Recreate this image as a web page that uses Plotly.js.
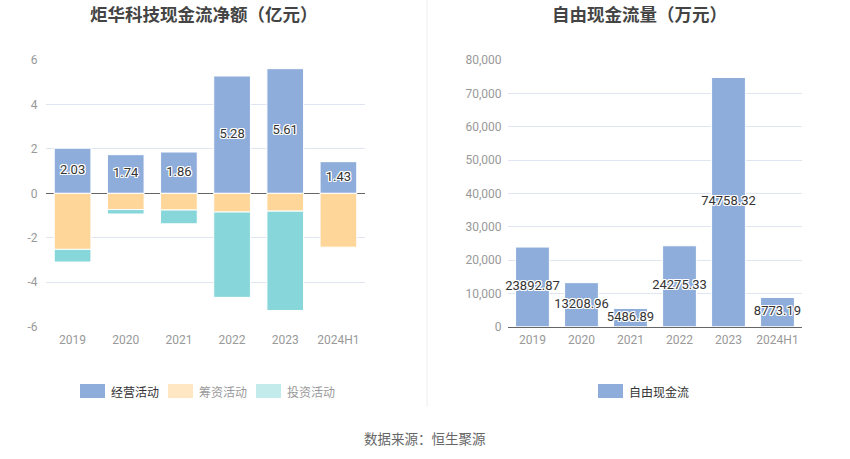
<!DOCTYPE html>
<html><head><meta charset="utf-8">
<script src="https://cdn.plot.ly/plotly-3.0.1.min.js"></script>
<style>html,body{margin:0;padding:0;background:#fff}#c{width:850px;height:459px}</style>
</head><body><div id="c"></div>
<script>
const categories = ['2019','2020','2021','2022','2023','2024H1'];
const operating = [2.03, 1.74, 1.86, 5.28, 5.61, 1.43];
const financing = [-2.52, -0.73, -0.75, -0.84, -0.80, -2.42];
const investing = [-0.57, -0.20, -0.62, -3.84, -4.47, 0];
const seriesNames = ['经营活动','筹资活动','投资活动'];
const fcfCategories = ['2019','2020','2021','2022','2023','2024H1'];
const freeCashFlow = [23892.87, 13208.96, 5486.89, 24275.33, 74758.32, 8773.19];
const fcfName = '自由现金流';
const leftTicks = [-6,-4,-2,0,2,4,6];
const rightTicks = [0,10000,20000,30000,40000,50000,60000,70000,80000];

const W = 850, H = 459;
const px = v => v / W, py = v => 1 - v / H;
const BLUE = '#8eaddb', ORANGE = '#ffd699', TEAL = '#87d6d9';
const FONT = 'Roboto, "Noto Sans CJK SC", sans-serif';
const shadow = '1px 1px 0 #fff, -1px -1px 0 #fff, 1px -1px 0 #fff, -1px 1px 0 #fff, 0 1px 0 #fff, 0 -1px 0 #fff, 1px 0 0 #fff, -1px 0 0 #fff';
const barLine = {color:'#fff', width:1};

const traces = [
  {type:'bar', x:categories, y:operating, name:seriesNames[0], marker:{color:BLUE, line:barLine}, xaxis:'x', yaxis:'y', hoverinfo:'none'},
  {type:'bar', x:categories, y:financing, name:seriesNames[1], marker:{color:ORANGE, line:barLine}, xaxis:'x', yaxis:'y', hoverinfo:'none'},
  {type:'bar', x:categories, y:investing, name:seriesNames[2], marker:{color:TEAL, line:barLine}, xaxis:'x', yaxis:'y', hoverinfo:'none'},
  {type:'scatter', mode:'text', x:categories, y:operating.map(v=>v/2), text:operating.map(v=>v.toFixed(2)),
   textfont:{size:13, color:'#333', family:FONT, shadow:shadow}, xaxis:'x', yaxis:'y', hoverinfo:'none', cliponaxis:false},
  {type:'bar', x:fcfCategories, y:freeCashFlow, name:fcfName, marker:{color:BLUE, line:barLine}, xaxis:'x2', yaxis:'y2', hoverinfo:'none'},
  {type:'scatter', mode:'text', x:fcfCategories, y:freeCashFlow.map(v=>v/2), text:freeCashFlow.map(v=>v.toFixed(2)),
   textfont:{size:13, color:'#333', family:FONT, shadow:shadow}, xaxis:'x2', yaxis:'y2', hoverinfo:'none', cliponaxis:false}
];

const tickFont = {size:12, color:'#999', family:FONT};
const ydom = [py(326.7), py(60)];
const layout = {
  width:W, height:H, margin:{l:0,r:0,t:0,b:0}, paper_bgcolor:'#fff', plot_bgcolor:'#fff',
  showlegend:false, barmode:'relative', bargap:0.31,
  font:{family:FONT},
  xaxis:{domain:[px(46), px(365)], type:'category', showgrid:false, showline:false, zeroline:false,
         ticks:'outside', ticklen:2, tickcolor:'rgba(0,0,0,0)', tickfont:tickFont, fixedrange:true},
  yaxis:{domain:ydom, range:[-6,6], tickvals:leftTicks, ticktext:leftTicks.map(String), showgrid:true, gridcolor:'#e0e6f1',
         zeroline:true, zerolinecolor:'#666', zerolinewidth:1, showline:false, ticks:'outside', ticklen:5, tickcolor:'rgba(0,0,0,0)',
         tickfont:tickFont, fixedrange:true},
  xaxis2:{domain:[px(508), px(802)], type:'category', showgrid:false, showline:true, linecolor:'#666', linewidth:1, zeroline:false,
         ticks:'outside', ticklen:2, tickcolor:'rgba(0,0,0,0)', tickfont:tickFont, anchor:'y2', fixedrange:true},
  yaxis2:{domain:ydom, range:[0,80000], tickvals:rightTicks, ticktext:rightTicks.map(v=>v.toLocaleString('en-US')), showgrid:true,
         gridcolor:'#e0e6f1', zeroline:false, showline:false, ticks:'outside', ticklen:3, tickcolor:'rgba(0,0,0,0)',
         tickfont:tickFont, anchor:'x2', fixedrange:true},
  shapes:[
    {type:'line', xref:'paper', yref:'paper', x0:px(427), x1:px(427), y0:py(0), y1:py(407), line:{color:'#eeeeee', width:1}}
  ],
  annotations:[
    {xref:'paper', yref:'paper', x:px(204), y:py(14), text:'<b>炬华科技现金流净额（亿元）</b>', showarrow:false,
     font:{size:17.5, color:'#444', family:'"Noto Sans CJK SC", sans-serif'}, xanchor:'center', yanchor:'middle'},
    {xref:'paper', yref:'paper', x:px(639), y:py(14), text:'<b>自由现金流量（万元）</b>', showarrow:false,
     font:{size:17.5, color:'#444', family:'"Noto Sans CJK SC", sans-serif'}, xanchor:'center', yanchor:'middle'},
    {xref:'paper', yref:'paper', x:px(425), y:py(438), text:'数据来源：恒生聚源', showarrow:false,
     font:{size:13.5, color:'#666', family:'"Noto Sans CJK SC", sans-serif'}, xanchor:'center', yanchor:'middle'}
  ]
};

// custom legends
const legendItems = [
  {name:seriesNames[0], color:BLUE, x:80, textColor:'#333'},
  {name:seriesNames[1], color:'#ffe7c4', x:168, textColor:'#999'},
  {name:seriesNames[2], color:'#c3ebec', x:256, textColor:'#999'},
  {name:fcfName, color:BLUE, x:598, textColor:'#333'}
];
legendItems.forEach(it => {
  layout.shapes.push({type:'rect', xref:'paper', yref:'paper', x0:px(it.x), x1:px(it.x+25), y0:py(398), y1:py(384),
    fillcolor:it.color, line:{width:0}});
  layout.annotations.push({xref:'paper', yref:'paper', x:px(it.x+29), y:py(391), text:it.name, showarrow:false,
    xanchor:'left', yanchor:'middle', font:{size:12, color:it.textColor, family:'"Noto Sans CJK SC", sans-serif'}});
});

Plotly.newPlot('c', traces, layout, {staticPlot:true, displayModeBar:false});
</script></body></html>
